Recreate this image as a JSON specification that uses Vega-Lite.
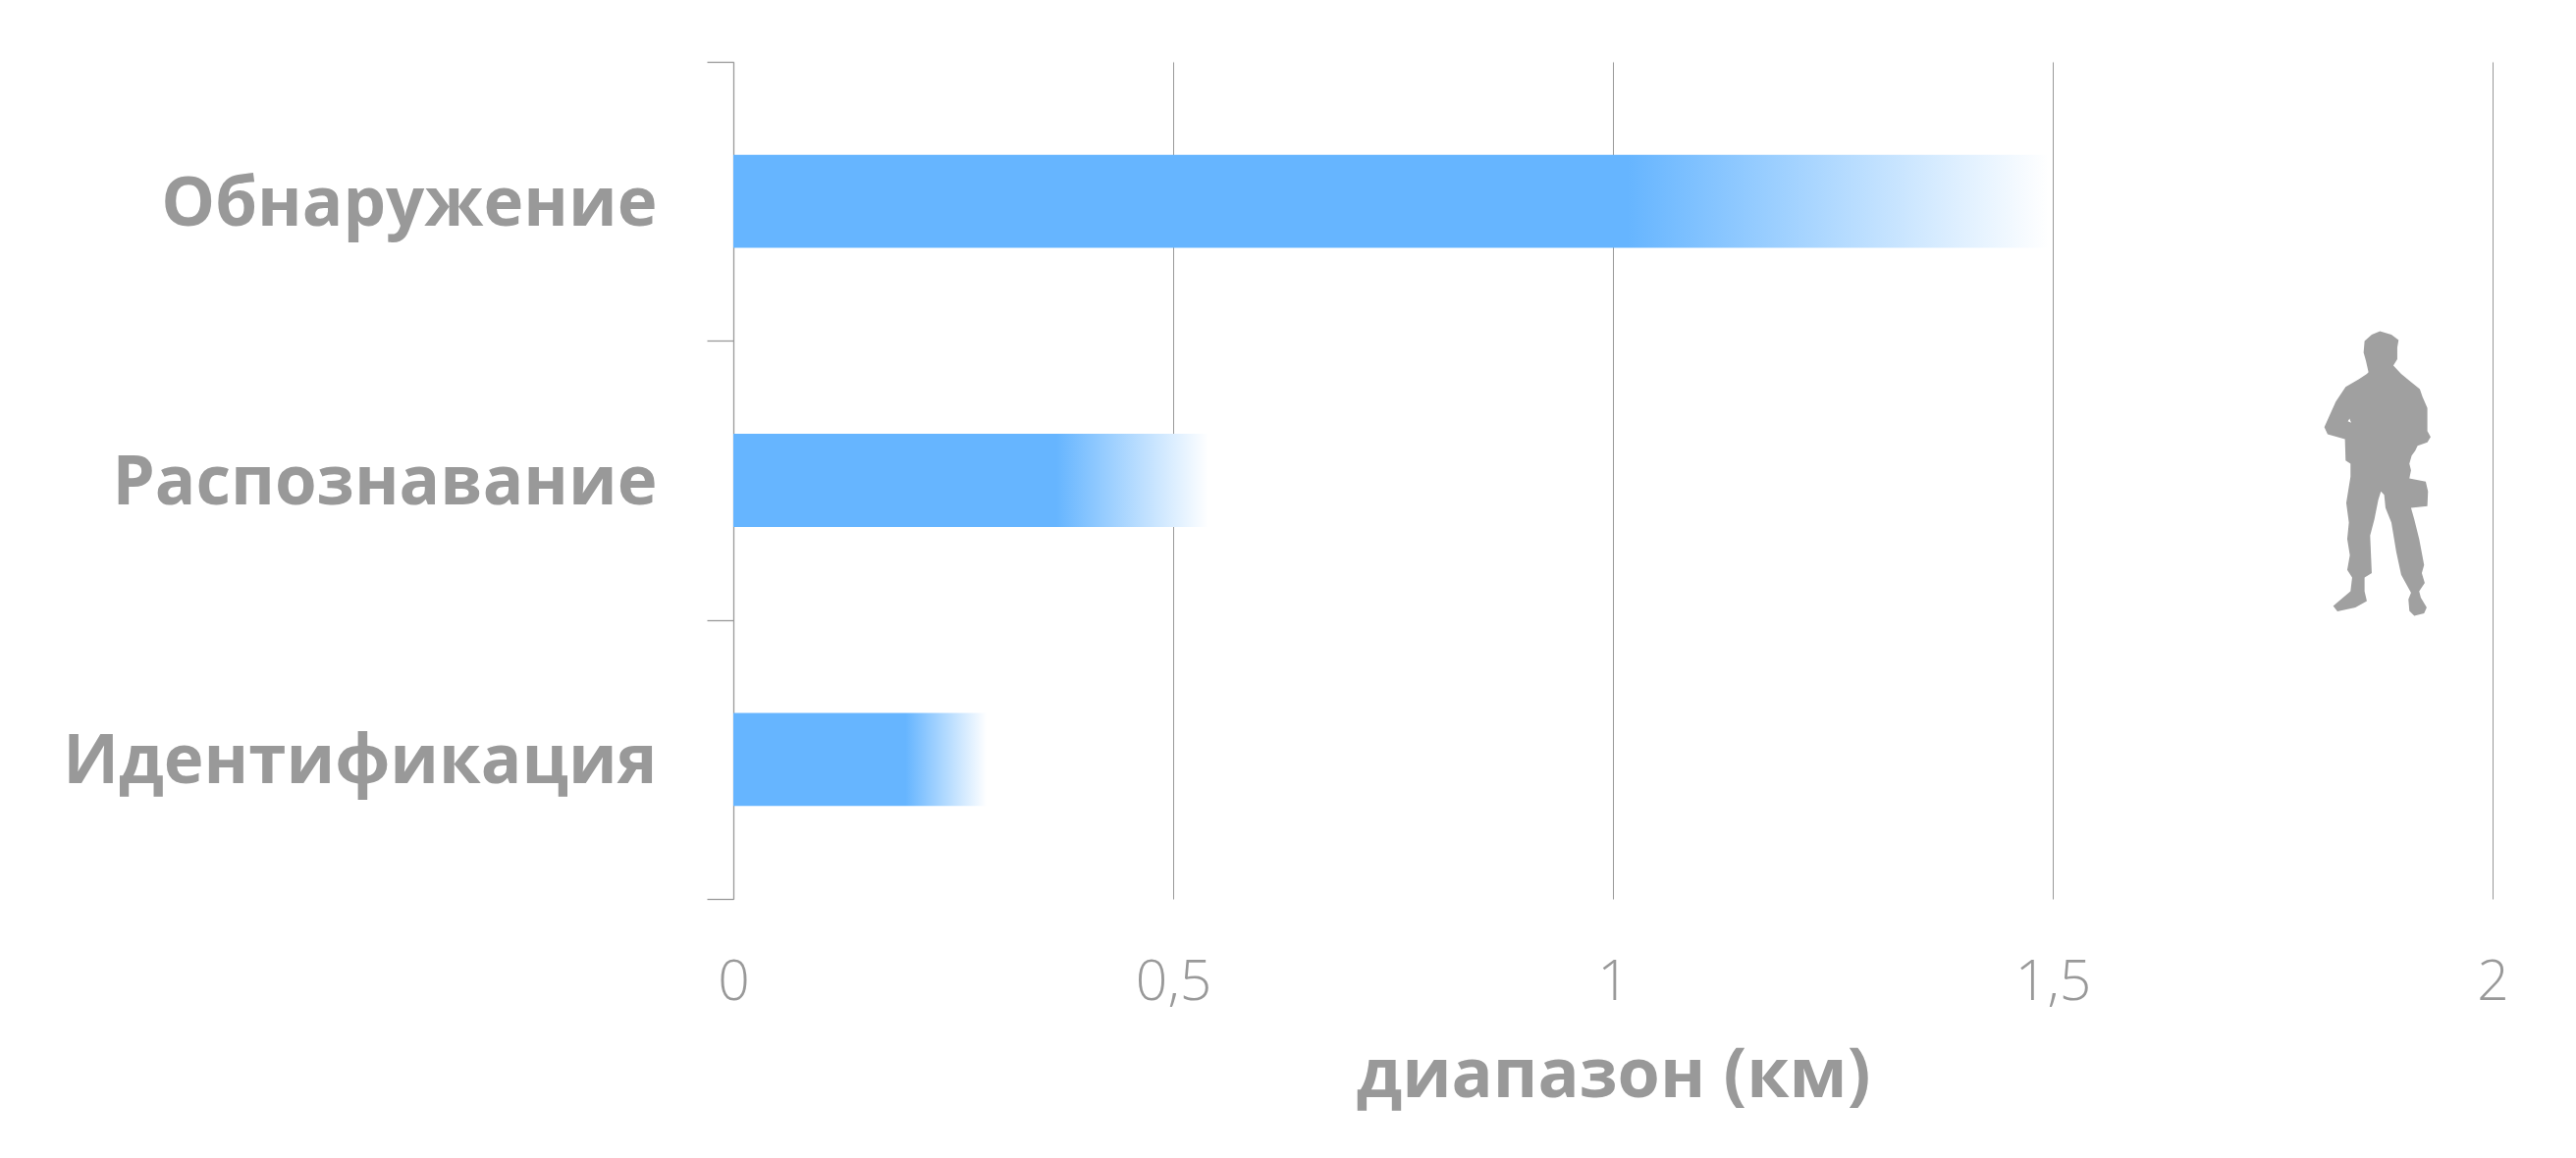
{"$schema":"https://vega.github.io/schema/vega-lite/v6.json","width":1792,"height":853,"autosize":"none","padding":{"left":747,"top":63,"right":85,"bottom":264},"background":"white","config":{"view":{"stroke":null},"font":"Open Sans"},"datasets":{"bars":[{"stage":"Обнаружение","range":1.495},{"stage":"Распознавание","range":0.54},{"stage":"Идентификация","range":0.288}],"person":[{"stage":"Распознавание","range":1.869}]},"layer":[{"data":{"name":"bars"},"mark":{"type":"bar","height":{"band":0.3333},"color":{"gradient":"linear","x1":0,"x2":1,"y1":0,"y2":0,"stops":[{"offset":0,"color":"#66B5FF"},{"offset":0.68,"color":"#66B5FF"},{"offset":1,"color":"#FFFFFF"}]}},"encoding":{"x":{"field":"range","type":"quantitative","scale":{"domain":[0,2],"nice":false},"axis":{"values":[0,0.5,1,1.5,2],"labelExpr":"replace(toString(datum.value),'.',',')","grid":true,"gridColor":"#999999","gridWidth":1,"domain":false,"ticks":false,"labelFont":"Open Sans","labelFontWeight":300,"labelFontSize":57,"labelColor":"#999999","labelPadding":57,"labelFlush":false,"title":"диапазон (км)","titleFont":"Open Sans","titleFontWeight":700,"titleFontSize":70,"titleColor":"#999999","titlePadding":33}},"y":{"field":"stage","type":"nominal","sort":["Обнаружение","Распознавание","Идентификация"],"scale":{"paddingInner":0,"paddingOuter":0},"axis":{"title":null,"tickBand":"extent","tickSize":27,"tickColor":"#999999","tickWidth":1.3,"domainColor":"#999999","domainWidth":1.3,"labelFont":"Open Sans","labelFontWeight":700,"labelFontSize":69,"labelColor":"#999999","labelPadding":51,"labelOffset":3,"labelLimit":800}}}},{"data":{"name":"person"},"mark":{"type":"point","filled":true,"opacity":1,"color":"#A0A0A0","yOffset":-7,"size":0.444,"shape":"M8,-435L43,-425L65,-408L61,-385L61,-350L49,-330L73,-305L103,-280L130,-258L138,-235L153,-200L153,-130L163,-112L153,-95L123,-85L116,-70L105,-55L98,-30L103,-10L98,15L148,25L155,55L153,100L103,105L113,140L128,200L143,280L136,305L145,335L128,360L133,380L151,410L143,428L113,435L98,420L95,385L103,365L73,310L58,240L43,150L25,105L21,65L11,55L3,80L-9,140L-22,190L-17,305L-39,318L-39,360L-32,390L-67,410L-122,422L-135,405L-82,360L-77,318L-92,295L-84,250L-92,200L-87,150L-95,90L-82,10L-82,-30L-97,-40L-99,-105L-152,-120L-162,-142L-127,-220L-97,-265L-57,-288L-32,-305L-27,-310L-35,-345L-42,-370L-39,-405L-17,-425ZM-80,-155L-85,-168L-90,-160Z"},"encoding":{"x":{"field":"range","type":"quantitative"},"y":{"field":"stage","type":"nominal","sort":["Обнаружение","Распознавание","Идентификация"]}}}]}
